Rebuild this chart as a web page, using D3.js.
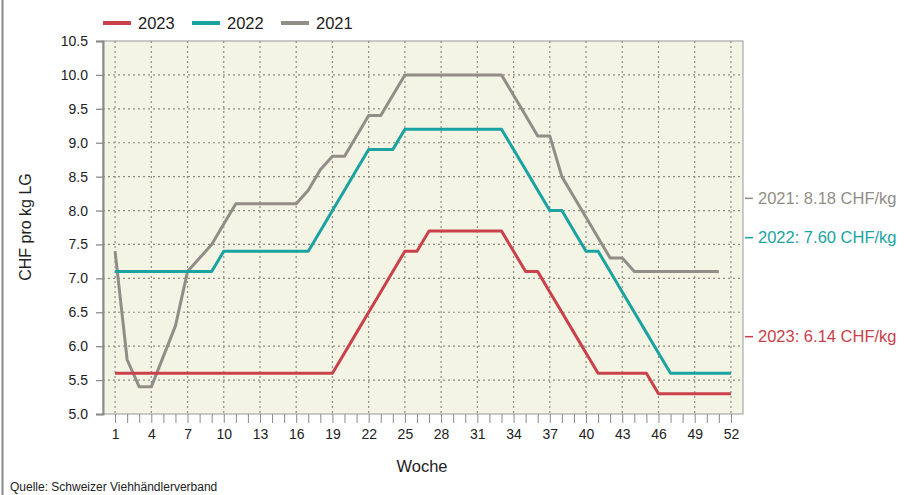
<!DOCTYPE html>
<html>
<head>
<meta charset="utf-8">
<script src="https://cdn.jsdelivr.net/npm/d3@7"></script>
<style>
  body { margin: 0; background: #fff; }
  svg { font-family: Arial, "Liberation Sans", sans-serif; }
</style>
</head>
<body>
<div id="chart"></div>
<script>
// Datos
const weeks = d3.range(1, 53)
const years = ['2023', '2022', '2021']
const values2023 = [5.6, 5.6, 5.6, 5.6, 5.6, 5.6, 5.6, 5.6, 5.6, 5.6, 5.6, 5.6, 5.6, 5.6, 5.6, 5.6, 5.6, 5.6, 5.6,
  5.9, 6.2, 6.5, 6.8, 7.1, 7.4, 7.4, 7.7, 7.7, 7.7, 7.7, 7.7, 7.7, 7.7, 7.4, 7.1, 7.1, 6.8, 6.5, 6.2, 5.9,
  5.6, 5.6, 5.6, 5.6, 5.6, 5.3, 5.3, 5.3, 5.3, 5.3, 5.3, 5.3]
const values2022 = [7.1, 7.1, 7.1, 7.1, 7.1, 7.1, 7.1, 7.1, 7.1, 7.4, 7.4, 7.4, 7.4, 7.4, 7.4, 7.4, 7.4,
  7.7, 8.0, 8.3, 8.6, 8.9, 8.9, 8.9, 9.2, 9.2, 9.2, 9.2, 9.2, 9.2, 9.2, 9.2, 9.2, 8.9, 8.6, 8.3, 8.0, 8.0,
  7.7, 7.4, 7.4, 7.1, 6.8, 6.5, 6.2, 5.9, 5.6, 5.6, 5.6, 5.6, 5.6, 5.6]
const values2021 = [7.4, 5.8, 5.4, 5.4, 5.85, 6.3, 7.1, 7.3, 7.5, 7.8, 8.1, 8.1, 8.1, 8.1, 8.1, 8.1,
  8.3, 8.6, 8.8, 8.8, 9.1, 9.4, 9.4, 9.7, 10.0, 10.0, 10.0, 10.0, 10.0, 10.0, 10.0, 10.0, 10.0, 9.7, 9.4,
  9.1, 9.1, 8.5, 8.2, 7.9, 7.6, 7.3, 7.3, 7.1, 7.1, 7.1, 7.1, 7.1, 7.1, 7.1, 7.1]
const averages = [6.14, 7.60, 8.18]
const yTicks = d3.range(5, 10.51, 0.5)
const xTicks = d3.range(1, 53, 3)

const colors = ['#c9414b', '#1aa3a1', '#928d87']
const series = [values2023, values2022, values2021]

// Constantes
const width = 914
const height = 495
const plot = { left: 103, right: 743, top: 41, bottom: 414 }

const svg = d3.select('#chart')
  .append('svg')
  .attr('width', width)
  .attr('height', height)

// Marco izquierdo
svg.append('line')
  .attr('x1', 2.5).attr('x2', 2.5)
  .attr('y1', 0).attr('y2', height)
  .attr('stroke', '#8a8a8a')
  .attr('stroke-width', 2)

const x = d3.scaleLinear().domain([0, 53]).range([plot.left, plot.right])
const y = d3.scaleLinear().domain([5, 10.5]).range([plot.bottom, plot.top])

// Fondo
svg.append('rect')
  .attr('x', plot.left)
  .attr('y', plot.top)
  .attr('width', plot.right - plot.left)
  .attr('height', plot.bottom - plot.top)
  .attr('fill', '#f4f4e5')
  .attr('stroke', '#a8a8a8')
  .attr('stroke-width', 1.2)

// Rejilla
const grid = svg.append('g').attr('class', 'grid')
grid.selectAll('.h')
  .data(yTicks.slice(1, -1))
  .enter()
  .append('line')
  .attr('x1', plot.left).attr('x2', plot.right)
  .attr('y1', d => y(d)).attr('y2', d => y(d))
grid.selectAll('.v')
  .data(xTicks)
  .enter()
  .append('line')
  .attr('x1', d => x(d)).attr('x2', d => x(d))
  .attr('y1', plot.top).attr('y2', plot.bottom)
grid.selectAll('line')
  .attr('stroke', '#8c8c84')
  .attr('stroke-width', 1.2)
  .attr('stroke-dasharray', '2,3')

// Eje Y
const axisY = d3.axisLeft(y)
  .tickValues(yTicks)
  .tickFormat(d3.format('.1f'))
  .tickSize(7)
  .tickPadding(8)
const gY = svg.append('g')
  .attr('transform', `translate(${plot.left}, 0)`)
  .call(axisY)
gY.select('.domain').attr('stroke', '#8a8a8a').attr('stroke-width', 2)
gY.selectAll('.tick line').attr('stroke', '#8a8a8a').attr('stroke-width', 1.3)
gY.selectAll('.tick text').attr('font-size', 14).attr('fill', '#222')

// Eje X: marcas por semana
const axisXMinor = d3.axisBottom(x)
  .tickValues(weeks)
  .tickFormat('')
  .tickSize(9)
const gXm = svg.append('g')
  .attr('transform', `translate(0, ${plot.bottom})`)
  .call(axisXMinor)
gXm.select('.domain').remove()
gXm.selectAll('.tick line').attr('stroke', '#8a8a8a').attr('stroke-width', 1)

const axisX = d3.axisBottom(x)
  .tickValues(xTicks)
  .tickSize(0)
  .tickPadding(15)
const gX = svg.append('g')
  .attr('transform', `translate(0, ${plot.bottom})`)
  .call(axisX)
gX.select('.domain').remove()
gX.selectAll('.tick text').attr('font-size', 14).attr('fill', '#222')

// Líneas
const line = d3.line()
  .x((d, i) => x(weeks[i]))
  .y(d => y(d))

svg.append('g')
  .attr('class', 'lines')
  .selectAll('path')
  .data(series)
  .enter()
  .append('path')
  .attr('d', d => line(d))
  .attr('fill', 'none')
  .attr('stroke', (d, i) => colors[i])
  .attr('stroke-width', 3)
  .attr('stroke-linejoin', 'round')
  .lower()

// Etiquetas de media
const avg = svg.append('g')
  .selectAll('g')
  .data(averages)
  .enter()
  .append('g')
  .attr('transform', d => `translate(${plot.right}, ${y(d)})`)
avg.append('line')
  .attr('x1', 2).attr('x2', 10)
  .attr('stroke', (d, i) => colors[i])
  .attr('stroke-width', 1.5)
avg.append('text')
  .attr('x', 15)
  .attr('dy', '0.35em')
  .attr('font-size', 16.5)
  .attr('fill', (d, i) => colors[i])
  .text((d, i) => `${years[i]}: ${d.toFixed(2)} CHF/kg`)

// Leyenda
const legendX = [103, 192, 281]
const legend = svg.append('g')
  .selectAll('g')
  .data(years)
  .enter()
  .append('g')
  .attr('transform', (d, i) => `translate(${legendX[i]}, 23)`)
legend.append('line')
  .attr('x1', 0).attr('x2', 28)
  .attr('stroke', (d, i) => colors[i])
  .attr('stroke-width', 4)
legend.append('text')
  .attr('x', 35)
  .attr('dy', '0.36em')
  .attr('font-size', 16.5)
  .attr('fill', '#222')
  .text(d => d)

// Títulos de ejes
svg.append('text')
  .attr('x', 422)
  .attr('y', 472)
  .attr('text-anchor', 'middle')
  .attr('font-size', 16.5)
  .attr('fill', '#222')
  .text('Woche')

svg.append('text')
  .attr('transform', 'translate(31, 227) rotate(-90)')
  .attr('text-anchor', 'middle')
  .attr('font-size', 16)
  .attr('fill', '#222')
  .text('CHF pro kg LG')

// Fuente
svg.append('text')
  .attr('x', 10)
  .attr('y', 491)
  .attr('font-size', 12)
  .attr('fill', '#222')
  .text('Quelle: Schweizer Viehhändlerverband')
</script>
</body>
</html>
